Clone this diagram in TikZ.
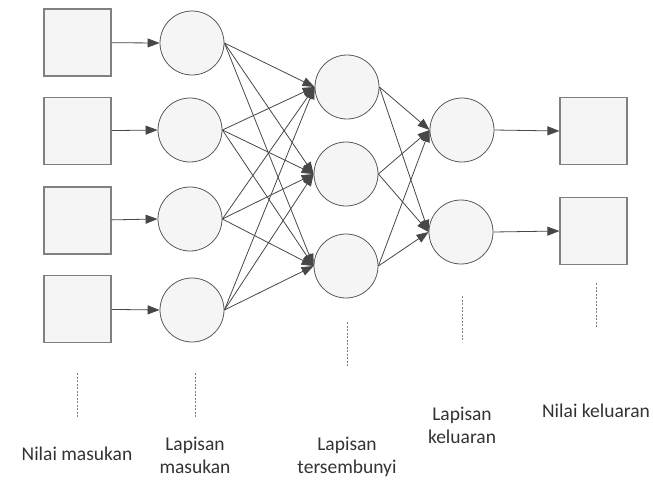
\documentclass[tikz,border=0pt]{standalone}
\usepackage{fontspec}
\setmainfont{Carlito}
\usetikzlibrary{arrows.meta}

\begin{document}
\begin{tikzpicture}[x=1pt, y=-1pt, every node/.style={font=\fontsize{19.5}{23}\selectfont, text=black!80},
  unit/.style={draw=black!65, fill=black!4, circle, minimum size=64pt, inner sep=0pt, line width=0.8pt},
  value/.style={draw=black!50, fill=black!4, minimum width=67pt, minimum height=67pt, inner sep=0pt, line width=1.2pt},
  link/.style={-{Triangle[length=12pt,width=9pt]}, draw=black!72, line width=0.8pt},
  guide/.style={black!50, line width=0.6pt, dash pattern=on 2pt off 1.5pt}]
\useasboundingbox (0,0) rectangle (653,480);
% nilai masukan dan lapisan masukan
\node[value] (x1) at (77.5,42.5) {};
\node[value] (x2) at (77.5,131) {};
\node[value] (x3) at (77.5,220.5) {};
\node[value] (x4) at (77.5,309) {};
\node[unit] (i1) at (192,43) {};
\node[unit] (i2) at (190,130) {};
\node[unit] (i3) at (190,219) {};
\node[unit] (i4) at (192,310) {};
% lapisan tersembunyi
\node[unit] (h1) at (347,87) {};
\node[unit] (h2) at (346,174) {};
\node[unit] (h3) at (346,266) {};
% lapisan keluaran dan nilai keluaran
\node[unit] (o1) at (462,130) {};
\node[unit] (o2) at (461,232) {};
\node[value] (y1) at (593.5,131) {};
\node[value] (y2) at (593.5,231) {};
\foreach \n in {1,...,4} \draw[link] (x\n) -- (i\n.west);
\foreach \a in {1,...,4} \foreach \b in {1,2,3} \draw[link] (i\a.east) -- (h\b.west);
\foreach \a in {1,2,3} \foreach \b in {1,2} \draw[link] (h\a.east) -- (o\b.west);
\draw[link] (o1.east) -- (y1.west);
\draw[link] (o2.east) -- (y2.west);
% keterangan
\draw[guide] (77,373) -- (77,418);
\draw[guide] (195,373) -- (195,418);
\draw[guide] (347,322) -- (347,367);
\draw[guide] (462,296) -- (462,340);
\draw[guide] (596,283) -- (596,328);
\node (t1) at (77,454) {Nilai masukan};
\node[align=center] (t2) at (195,455) {Lapisan\\masukan};
\node[align=center] (t3) at (347,457) {Lapisan\\tersembunyi};
\node[align=center] (t4) at (462,425) {Lapisan\\keluaran};
\node (t5) at (596,411) {Nilai keluaran};
\end{tikzpicture}
\end{document}
